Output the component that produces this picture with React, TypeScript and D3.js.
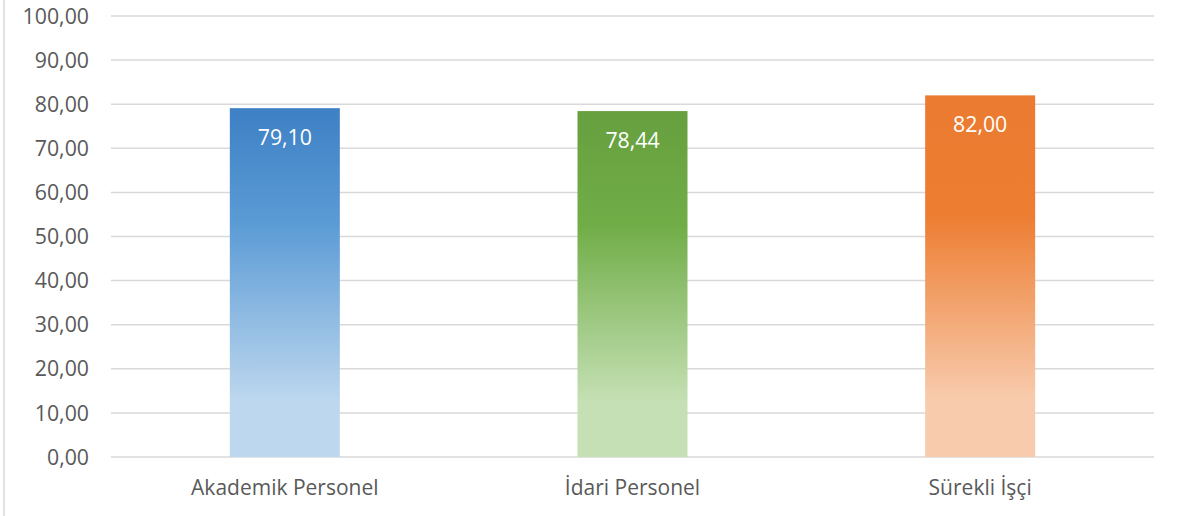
import React from "react";
import * as d3 from "d3";

const categories = ["Akademik Personel", "İdari Personel", "Sürekli İşçi"];
const values = [79.1, 78.44, 82.0];
const yTicks = [0, 10, 20, 30, 40, 50, 60, 70, 80, 90, 100];
const gradients = [
  { top: "#3d80c4", base: "#5b9bd5", light: "#bdd7ee" },
  { top: "#67a03f", base: "#70ad47", light: "#c5e0b4" },
  { top: "#ea7b30", base: "#ed7d31", light: "#f8cbad" },
];

const W = 1180;
const H = 516;
const fmt = (v: number) => v.toFixed(2).replace(".", ",");

export default function App() {
  const y = d3.scaleLinear().domain([0, 100]).range([457, 16]);
  const x = d3
    .scaleBand<string>()
    .domain(categories)
    .range([111, 1154])
    .paddingInner(0.6836)
    .paddingOuter(0.3418);
  const font = "'Open Sans', Calibri, sans-serif";
  return (
    <svg
      width={W}
      height={H}
      style={{ position: "absolute", left: 0, top: 0, display: "block", background: "#fff" }}
    >
      <defs>
        {gradients.map((g, i) => (
          <linearGradient key={i} id={`grad${i}`} x1="0" y1="0" x2="0" y2="1">
            <stop offset="0" stopColor={g.top} />
            <stop offset="0.33" stopColor={g.base} />
            <stop offset="0.84" stopColor={g.light} />
            <stop offset="1" stopColor={g.light} />
          </linearGradient>
        ))}
      </defs>
      <line x1={4} x2={4} y1={0} y2={H} stroke="#d9d9d9" strokeWidth={1.5} />
      {yTicks.map((t) => (
        <g key={t}>
          <line x1={111} x2={1154} y1={y(t)} y2={y(t)} stroke="#d9d9d9" strokeWidth={1.5} />
          <text
            x={89}
            y={y(t)}
            dy="0.36em"
            textAnchor="end"
            fontFamily={font}
            fontSize={21.3}
            fill="#595959"
          >
            {fmt(t)}
          </text>
        </g>
      ))}
      {categories.map((c, i) => {
        const x0 = x(c)!;
        const bw = x.bandwidth();
        return (
          <g key={c}>
            <rect x={x0} y={y(values[i])} width={bw} height={y(0) - y(values[i])} fill={`url(#grad${i})`} />
            <text
              x={x0 + bw / 2}
              y={y(values[i]) + 37}
              textAnchor="middle"
              fontFamily={font}
              fontSize={21.3}
              fill="#ffffff"
            >
              {fmt(values[i])}
            </text>
            <text
              x={x0 + bw / 2}
              y={495}
              textAnchor="middle"
              fontFamily={font}
              fontSize={21}
              fill="#595959"
            >
              {c}
            </text>
          </g>
        );
      })}
    </svg>
  );
}
